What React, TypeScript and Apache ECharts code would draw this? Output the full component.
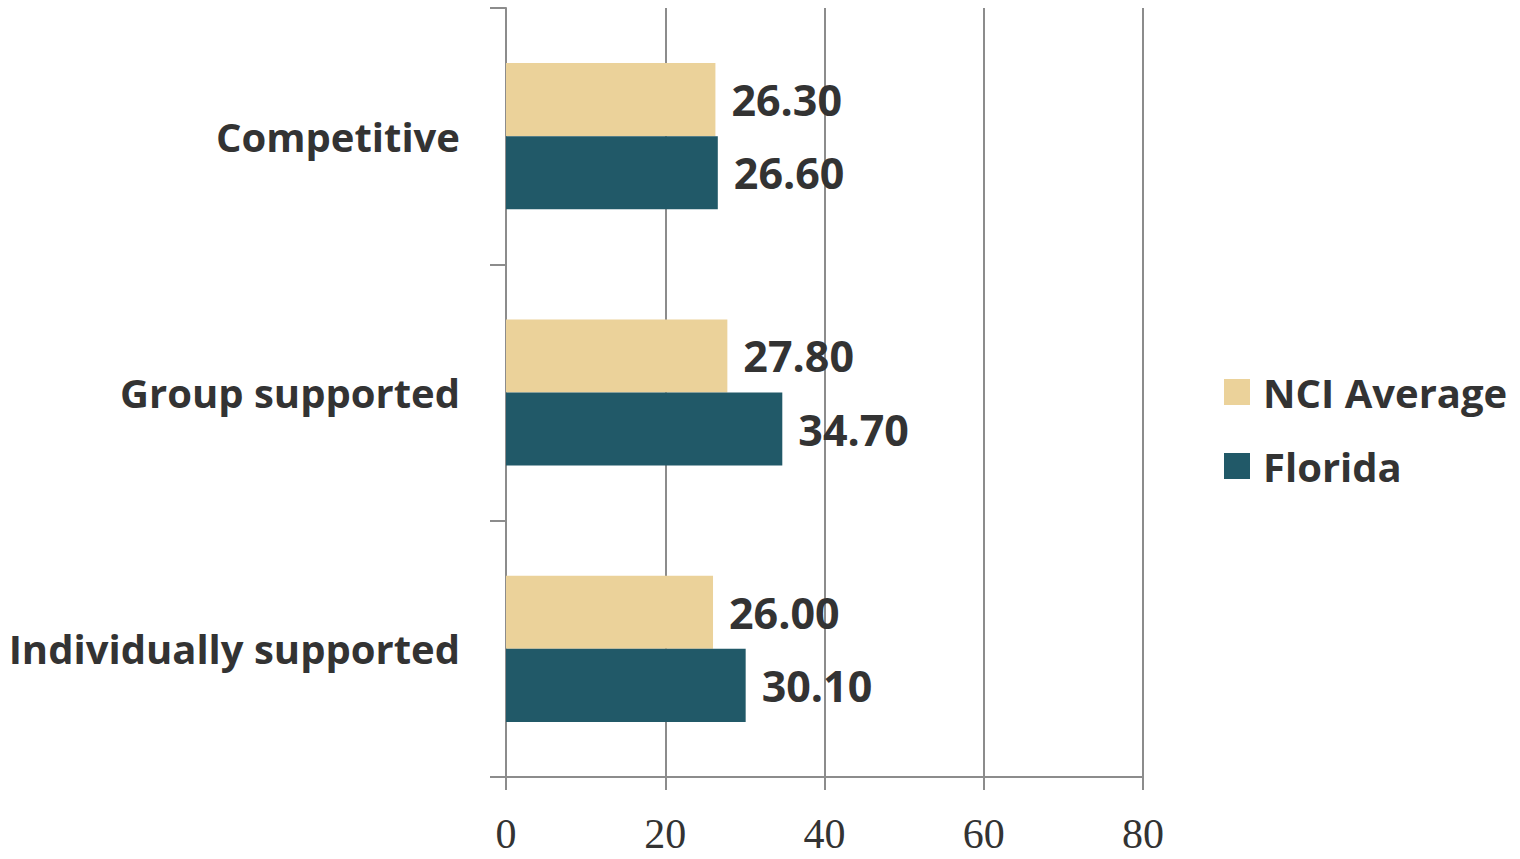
import React, { useEffect, useRef } from "react";
import * as echarts from "echarts";

const categories = ["Competitive", "Group supported", "Individually supported"];
const nciAverage = [26.3, 27.8, 26.0];
const florida = [26.6, 34.7, 30.1];
const xTicks = [0, 20, 40, 60, 80];

const labelFont = "'Open Sans', Lato, sans-serif";

export default function App() {
  const ref = useRef<HTMLDivElement>(null);
  useEffect(() => {
    const chart = echarts.init(ref.current!, null, { renderer: "svg" });
    const barLabel = {
      show: true,
      position: "right",
      distance: 16,
      color: "#333333",
      fontFamily: labelFont,
      fontWeight: "bold",
      fontSize: 43,
      formatter: (p: any) => Number(p.value).toFixed(2),
    };
    chart.setOption({
      animation: false,
      grid: { left: 506, right: 377, top: 8, bottom: 82 },
      legend: {
        orient: "vertical",
        left: 1219,
        top: 367,
        icon: "rect",
        itemWidth: 26,
        itemHeight: 26,
        itemGap: 34,
        textStyle: {
          color: "#333333",
          fontFamily: labelFont,
          fontWeight: "bold",
          fontSize: 40,
          lineHeight: 40,
          padding: [0, 0, 0, 8],
        },
        data: ["NCI Average", "Florida"],
      },
      xAxis: {
        type: "value",
        min: xTicks[0],
        max: xTicks[xTicks.length - 1],
        interval: 20,
        axisLine: { show: true, lineStyle: { color: "#8c8c8c", width: 2 } },
        axisTick: { show: true, length: 13, lineStyle: { color: "#8c8c8c", width: 2 } },
        splitLine: { show: true, lineStyle: { color: "#8c8c8c", width: 2 } },
        axisLabel: {
          color: "#333333",
          fontFamily: "'Liberation Serif', 'DejaVu Serif', serif",
          fontSize: 42,
          lineHeight: 36,
          margin: 39,
        },
      },
      yAxis: {
        type: "category",
        inverse: true,
        data: categories,
        axisLine: { show: true, lineStyle: { color: "#8c8c8c", width: 2 } },
        axisTick: { show: true, length: 16, lineStyle: { color: "#8c8c8c", width: 2 } },
        axisLabel: {
          color: "#333333",
          fontFamily: labelFont,
          fontWeight: "bold",
          fontSize: 40,
          margin: 46,
        },
      },
      series: [
        {
          name: "NCI Average",
          type: "bar",
          data: nciAverage,
          itemStyle: { color: "#EBD29A" },
          barGap: "0%",
          barCategoryGap: "43%",
          label: barLabel,
        },
        {
          name: "Florida",
          type: "bar",
          data: florida,
          itemStyle: { color: "#215968" },
          barGap: "0%",
          barCategoryGap: "43%",
          label: barLabel,
        },
      ],
    });
    return () => chart.dispose();
  }, []);
  return <div ref={ref} style={{ width: 1520, height: 859, position: "absolute", left: 0, top: 0 }} />;
}
